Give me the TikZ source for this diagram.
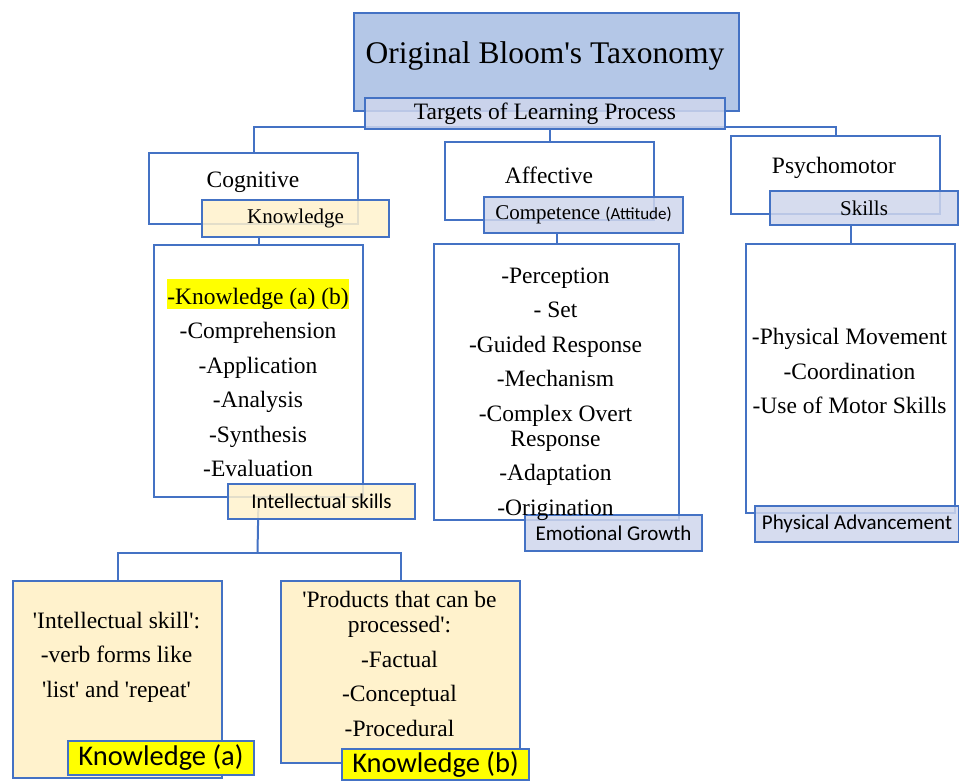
\documentclass[tikz,border=0pt]{standalone}
\usepackage{fontspec}
\setmainfont{Liberation Serif}
\newfontfamily\tagsans{Carlito}
\definecolor{edge}{HTML}{4472C4}
\definecolor{titlefill}{HTML}{B4C7E7}
\definecolor{tagfill}{HTML}{CFD6EC}
\definecolor{creamfill}{HTML}{FFF2CC}
\definecolor{marker}{HTML}{FFFF00}
\newcommand\hilite[1]{{\setlength\fboxsep{0pt}\colorbox{marker}{\rule[-4pt]{0pt}{29pt}#1}}}
\newcommand\sq{\textquotesingle}

\begin{document}
\begin{tikzpicture}[x=1pt,y=-1pt,
  panel/.style={draw=edge,line width=2pt,fill=white,anchor=north west,inner sep=0pt},
  headbox/.style={panel,fill=titlefill},
  cream/.style={panel,fill=creamfill},
  tagbox/.style={panel,fill=tagfill,fill opacity=0.85},
  creamtag/.style={panel,fill=creamfill,fill opacity=0.85},
  yellowtag/.style={panel,fill=marker},
  link/.style={draw=edge,line width=2pt},
  serif/.style={inner sep=0pt,align=center,font=\fontsize{23.5}{34.5}\selectfont},
  tagserif/.style={inner sep=0pt,font=\fontsize{21}{25}\selectfont},
  tagtext/.style={inner sep=0pt,font=\tagsans\fontsize{21}{25}\selectfont},
  bigtag/.style={inner sep=0pt,font=\tagsans\fontsize{28.5}{32}\selectfont},
]
\useasboundingbox (0,0) rectangle (959,780);

% rails for the branching connectors
\coordinate (rail) at (0,127);
\coordinate (fork) at (257.5,553);

% --- top title --------------------------------------------------------------
\node[headbox,minimum width=385pt,minimum height=98pt] (title) at (353,12) {};

% --- first level boxes ------------------------------------------------------
\node[panel,minimum width=209pt,minimum height=71pt] (cog) at (148,152) {};
\node[panel,minimum width=209pt,minimum height=78pt] (aff) at (444,141) {};
\node[panel,minimum width=209pt,minimum height=78pt] (psy) at (730,135) {};

% --- lists ------------------------------------------------------------------
\node[panel,minimum width=209pt,minimum height=252pt] (coglist) at (153,244) {};
\node[panel,minimum width=245pt,minimum height=276pt] (afflist) at (433,243) {};
\node[panel,minimum width=209pt,minimum height=269pt] (psylist) at (745,243) {};

% --- knowledge detail boxes -------------------------------------------------
\node[cream,minimum width=209pt,minimum height=197pt] (ska) at (12,580) {};
\node[cream,minimum width=239pt,minimum height=182pt] (skb) at (280,580) {};

% --- connectors and the tags sitting on the box edges -------------------------
\draw[link] (cog.north) -- (cog.north |- rail) -- (psy.north |- rail) -- (psy.north);
\node[tagbox,minimum width=360pt,minimum height=31pt] (targets) at (364,97) {};
\draw[link] (aff.north |- targets.south) -- (aff.north);

\node[creamtag,minimum width=187pt,minimum height=37pt] (know) at (201,199) {};
\draw[link] (coglist.north |- know.south) -- (coglist.north);

\node[tagbox,minimum width=199pt,minimum height=36pt] (comp) at (483,196) {};
\draw[link] (afflist.north |- comp.south) -- (afflist.north);

\node[tagbox,minimum width=188pt,minimum height=34pt] (skills) at (769,190) {};
\draw[link] (psylist.north |- skills.south) -- (psylist.north);

\draw[link] (coglist.south) -- (fork);
\draw[link] (ska.north) |- (fork) -| (skb.north);

\node[creamtag,minimum width=187pt,minimum height=35pt] (intel) at (227,483) {};
\node[tagbox,minimum width=177pt,minimum height=36pt] (emo) at (524,514) {};
\node[tagbox,minimum width=204pt,minimum height=36pt] (phys) at (754,505) {};
\node[yellowtag,minimum width=186pt,minimum height=34pt] (kna) at (67,740) {};
\node[yellowtag,minimum width=187pt,minimum height=31pt] (knb) at (341,748) {};

% --- texts ------------------------------------------------------------------
\node[inner sep=0pt,font=\fontsize{31.5}{36}\selectfont] (titletext) at (545,56) {Original Bloom\sq s Taxonomy};
\node[serif] (targetstext) at (targets.center) {Targets of Learning Process};

\node[serif] (cogtext) at (253,182) {Cognitive};
\node[serif] (afftext) at (549,175) {Affective};
\node[serif] (psytext) at (834,168) {Psychomotor};

\node[tagserif] (knowtext) at (know.center) {Knowledge};
\node[tagserif] (comptext) at (comp.center) {Competence {\tagsans\fontsize{17}{20}\selectfont(Attitude)}};
\node[tagserif] (skillstext) at (skills.center) {Skills};

\node[serif] (coglisttext) at (258,378) {\hilite{-Knowledge (a) (b)}\\-Comprehension\\-Application\\-Analysis\\-Synthesis\\-Evaluation};
\node[serif] (afflisttext) at (555.5,394) {-Perception\\- Set\\-Guided Response\\-Mechanism\\-Complex Overt\\[-9.5pt]Response\\-Adaptation\\-Origination};
\node[serif] (psylisttext) at (849.5,371) {-Physical Movement\\-Coordination\\-Use of Motor Skills};

\node[tagtext] (inteltext) at (intel.center) {Intellectual skills};
\node[tagtext] (emotext) at (emo.center) {Emotional Growth};
\node[tagtext] (physt) at (phys.center) {Physical Advancement};

\node[serif] (skatext) at (116.5,657) {\sq Intellectual skill\sq:\\-verb forms like\\\sq list\sq{} and \sq repeat\sq};
\node[serif] (skbtext) at (399.5,664) {\sq Products that can be\\[-9.5pt]processed\sq:\\-Factual\\-Conceptual\\-Procedural};

\node[bigtag] (knatext) at (kna.center) {Knowledge (a)};
\node[bigtag] (knbtext) at (knb.center) {Knowledge (b)};
\end{tikzpicture}
\end{document}
